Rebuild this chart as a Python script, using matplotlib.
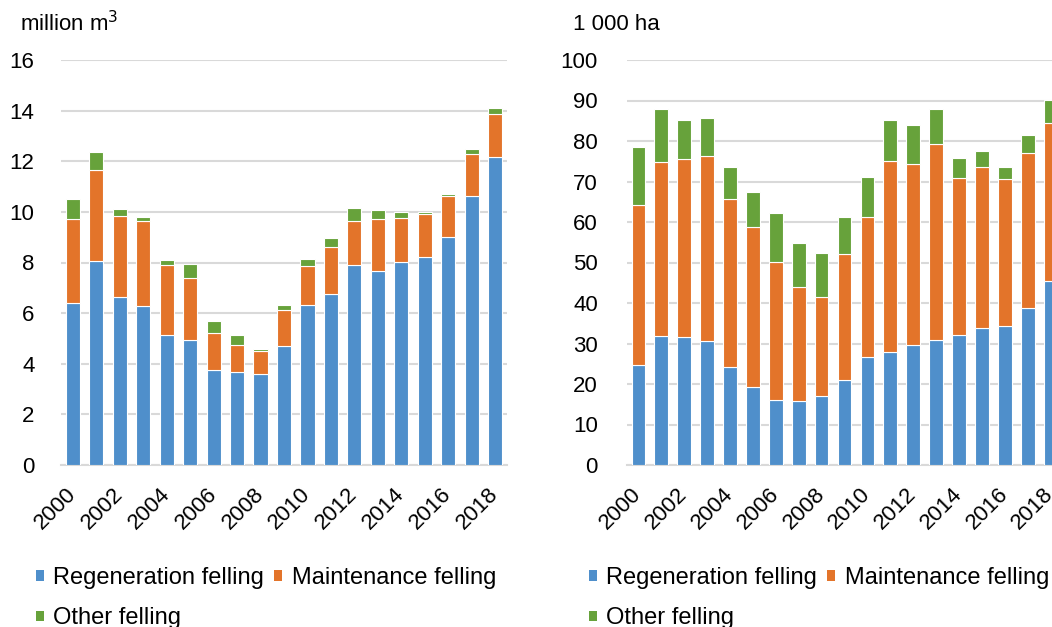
import matplotlib
matplotlib.use("Agg")
import matplotlib.pyplot as plt
from matplotlib.patches import Patch
import numpy as np

plt.rcParams['font.family'] = ['Liberation Sans', 'DejaVu Sans']

years = [str(y) for y in range(2000, 2019)]
tick_labels = [y if int(y) % 2 == 0 else "" for y in years]

# Volume (million m3)
vol_regen = [6.39, 8.07, 6.65, 6.29, 5.12, 4.94, 3.74, 3.66, 3.61, 4.71,
             6.33, 6.76, 7.89, 7.65, 8.03, 8.20, 8.99, 10.64, 12.18]
vol_maint = [3.33, 3.58, 3.19, 3.36, 2.78, 2.46, 1.49, 1.07, 0.91, 1.41,
             1.52, 1.85, 1.76, 2.08, 1.73, 1.73, 1.62, 1.66, 1.69]
vol_other = [0.80, 0.73, 0.27, 0.16, 0.19, 0.55, 0.47, 0.41, 0.08, 0.19,
             0.29, 0.36, 0.49, 0.34, 0.22, 0.08, 0.10, 0.18, 0.23]

# Area (1 000 ha)
area_regen = [24.7, 31.9, 31.5, 30.6, 24.1, 19.2, 16.0, 15.8, 17.0, 21.1,
              26.7, 27.8, 29.7, 30.8, 32.0, 33.9, 34.2, 38.8, 45.5]
area_maint = [39.6, 43.0, 44.1, 45.8, 41.6, 39.6, 34.2, 28.2, 24.6, 31.1,
              34.5, 47.2, 44.5, 48.5, 38.9, 39.8, 36.3, 38.2, 38.9]
area_other = [14.2, 13.1, 9.6, 9.2, 7.9, 8.5, 11.9, 10.7, 10.7, 9.0,
              9.9, 10.3, 9.7, 8.6, 4.9, 3.9, 3.2, 4.6, 5.7]

series_names = ["Regeneration felling", "Maintenance felling", "Other felling"]
colors = ["#4F8FCB", "#E3742A", "#67A23B"]

W, H = 1052, 627
fig = plt.figure(figsize=(W / 100, H / 100), dpi=100)

def px_axes(x0, x1, ytop, ybot):
    return [x0 / W, 1 - ybot / H, (x1 - x0) / W, (ybot - ytop) / H]

ax1 = fig.add_axes(px_axes(61, 507, 60, 465))
ax2 = fig.add_axes(px_axes(627, 1062, 60, 465))

def draw(ax, regen, maint, other, ymax, step, ypad):
    x = np.arange(len(years))
    regen = np.array(regen); maint = np.array(maint); other = np.array(other)
    w = 0.6
    ax.bar(x, regen, w, color=colors[0], edgecolor="white", linewidth=0.8, zorder=3)
    ax.bar(x, maint, w, bottom=regen, color=colors[1], edgecolor="white", linewidth=0.8, zorder=3)
    ax.bar(x, other, w, bottom=regen + maint, color=colors[2], edgecolor="white", linewidth=0.8, zorder=3)
    ax.set_xlim(-0.5, len(years) - 0.5)
    ax.set_ylim(0, ymax)
    ax.set_yticks(np.arange(0, ymax + step / 2, step))
    ax.yaxis.grid(True, color="#D9D9D9", linewidth=1.5, zorder=0)
    ax.set_axisbelow(True)
    for s in ["top", "right", "left"]:
        ax.spines[s].set_visible(False)
    ax.spines["bottom"].set_color("#D9D9D9")
    ax.spines["bottom"].set_linewidth(1.5)
    ax.tick_params(axis="y", length=0, pad=ypad, labelsize=16, labelcolor="#000000")
    ax.tick_params(axis="x", length=0, pad=19, labelsize=16)
    ax.set_xticks(x)
    ax.set_xticklabels(tick_labels, rotation=45, ha="right", va="center",
                       rotation_mode="anchor")

draw(ax1, vol_regen, vol_maint, vol_other, 16, 2, 19)
draw(ax2, area_regen, area_maint, area_other, 100, 10, 21)

fig.text(20 / W, 1 - 24 / H, "million m$^3$", fontsize=16, va="center", ha="left")
fig.text(573 / W, 1 - 24 / H, "1 000 ha", fontsize=16, va="center", ha="left")

handles = [Patch(facecolor=c, edgecolor="none") for c in colors]
order = [0, 2, 1]
for xl in (36, 589):
    fig.legend([handles[i] for i in order], [series_names[i] for i in order],
               loc="upper left", bbox_to_anchor=(xl / W, 1 - 567 / H), ncol=2,
               frameon=False, fontsize=17, handlelength=0.32, handleheight=0.32,
               handletextpad=0.42, columnspacing=0.42, labelspacing=0.78,
               borderpad=0, borderaxespad=0)

fig.savefig("out.png", dpi=100)
